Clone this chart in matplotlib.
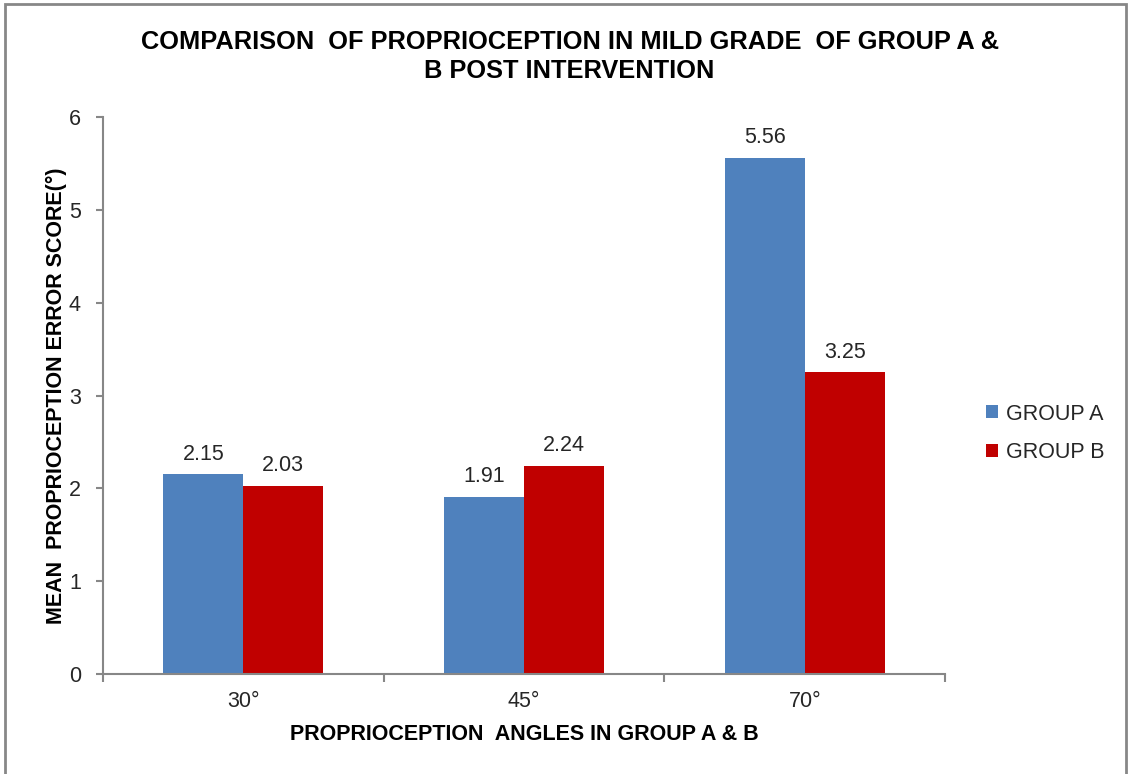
import matplotlib.pyplot as plt
import numpy as np
from matplotlib.patches import Rectangle

plt.rcParams['font.family'] = ['Liberation Sans', 'DejaVu Sans']

angles = ['30°', '45°', '70°']
group_a = [2.15, 1.91, 5.56]
group_b = [2.03, 2.24, 3.25]
series_names = ['GROUP A', 'GROUP B']
blue = '#4F81BD'
red = '#C00000'
grey = '#878787'
fs = 15.5

fig = plt.figure(figsize=(11.28, 7.74), dpi=100)
ax = fig.add_axes([0.0913, 0.1292, 0.7465, 0.7196])

x = np.arange(len(angles))
w = 0.285
bars_a = ax.bar(x - w / 2, group_a, w, color=blue, label=series_names[0])
bars_b = ax.bar(x + w / 2, group_b, w, color=red, label=series_names[1])

for bars in (bars_a, bars_b):
    for b in bars:
        ax.annotate('%.2f' % b.get_height(), (b.get_x() + b.get_width() / 2, b.get_height()),
                    xytext=(0, 7), textcoords='offset points', ha='center', va='bottom',
                    fontsize=fs, color='#262626')

ax.set_xlim(-0.5, 2.5)
ax.set_ylim(0, 6)
ax.set_yticks(range(0, 7))
ax.set_xticks(x)
ax.set_xticklabels(angles)
ax.set_xticks([-0.5, 0.5, 1.5, 2.5], minor=True)
ax.tick_params(axis='x', which='major', length=0, pad=12, labelsize=fs, labelcolor='#262626')
ax.tick_params(axis='x', which='minor', length=6, width=1.5, color=grey)
ax.tick_params(axis='y', length=5, width=1.5, color=grey, pad=11, labelsize=fs, labelcolor='#262626')

for s in ('top', 'right'):
    ax.spines[s].set_visible(False)
for s in ('left', 'bottom'):
    ax.spines[s].set_color(grey)
    ax.spines[s].set_linewidth(1.5)

ax.set_xlabel('PROPRIOCEPTION  ANGLES IN GROUP A & B', fontsize=fs, fontweight='bold', labelpad=9)
ax.set_ylabel('MEAN  PROPRIOCEPTION ERROR SCORE(°)', fontsize=fs, fontweight='bold', labelpad=1)

fig.text(0.505, 0.927, 'COMPARISON  OF PROPRIOCEPTION IN MILD GRADE  OF GROUP A &\nB POST INTERVENTION',
         ha='center', va='center', fontsize=18.3, fontweight='bold', linespacing=1.25)

leg = ax.legend(loc='center left', bbox_to_anchor=(1.026, 0.432), frameon=False, fontsize=fs,
                handlelength=0.55, handleheight=0.55, handletextpad=0.35, labelspacing=0.82)
for t in leg.get_texts():
    t.set_color('#262626')

fig.patches.append(Rectangle((0.0045, -0.01), 0.994, 1.005, transform=fig.transFigure,
                             fill=False, edgecolor=grey, linewidth=2))

fig.savefig('out.png', dpi=100)
